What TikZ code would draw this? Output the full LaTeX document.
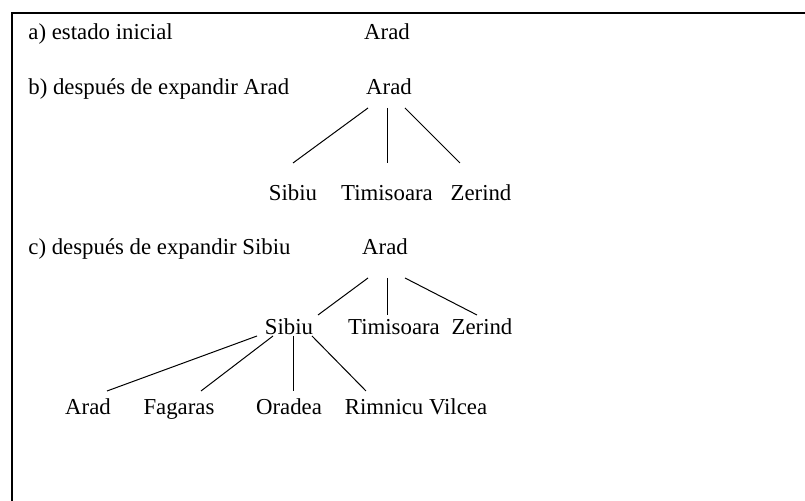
\documentclass[tikz,border=0pt]{standalone}
\usepackage{fontspec}
\setmainfont{Liberation Serif}
\usepackage{xcolor}
\usetikzlibrary{positioning}

\begin{document}
\begin{tikzpicture}[x=0.5pt, y=-0.5pt, font=\fontsize{11.4}{13}\selectfont,
    city/.style={inner sep=0pt, anchor=base},
    caption/.style={inner sep=0pt, anchor=base west},
    edge/.style={line width=0.5pt}]
    \clip (0,0) rectangle (805,501);
    \useasboundingbox (0,0) rectangle (805,501);
    \draw [line width=1.1pt] (12,13) rectangle (830,530);

    \node (labelA) [caption] at (28,40) {a) estado inicial};
    \node (aradA) [city] at (387,40) {Arad};

    \node (labelB) [caption] at (28,95) {b) después de expandir Arad};
    \node (aradB) [city] at (389,95) {Arad};
    \node (sibiuB) [city] at (293,201) {Sibiu};
    \node (timisoaraB) [city] at (387,201) {Timisoara};
    \node (zerindB) [city] at (481,201) {Zerind};

    \draw [edge] ([shift={(-21,13)}]aradB.base) -- ([shift={(0,-38)}]sibiuB.base);
    \draw [edge] ([shift={(-2,13)}]aradB.base) -- ([shift={(0,-38)}]timisoaraB.base);
    \draw [edge] ([shift={(16,13)}]aradB.base) -- ([shift={(-21,-38)}]zerindB.base);

    \node (labelC) [caption] at (28,255) {c) después de expandir Sibiu};
    \node (aradC) [city] at (385,255) {Arad};
    \node (sibiuC) [city] at (289,335) {Sibiu};
    \node (timisoaraC) [city] at (394,335) {Timisoara};
    \node (zerindC) [city] at (482,335) {Zerind};
    \node (aradD) [city] at (88,415) {Arad};
    \node (fagarasD) [city] at (179,415) {Fagaras};
    \node (oradeaD) [city] at (289,415) {Oradea};
    \node (rimnicuD) [city] at (416,415) {Rimnicu Vilcea};

    \draw [edge] ([shift={(-17,23)}]aradC.base) -- ([shift={(29,-20)}]sibiuC.base);
    \draw [edge] ([shift={(2,23)}]aradC.base) -- ([shift={(-7,-20)}]timisoaraC.base);
    \draw [edge] ([shift={(20,23)}]aradC.base) -- ([shift={(-5,-20)}]zerindC.base);

    \draw [edge] ([shift={(-32,1)}]sibiuC.base) -- ([shift={(19,-24)}]aradD.base);
    \draw [edge] ([shift={(-16,1)}]sibiuC.base) -- ([shift={(22,-24)}]fagarasD.base);
    \draw [edge] ([shift={(4,1)}]sibiuC.base) -- ([shift={(4,-24)}]oradeaD.base);
    \draw [edge] ([shift={(23,1)}]sibiuC.base) -- ([shift={(-50,-24)}]rimnicuD.base);
\end{tikzpicture}
\end{document}
